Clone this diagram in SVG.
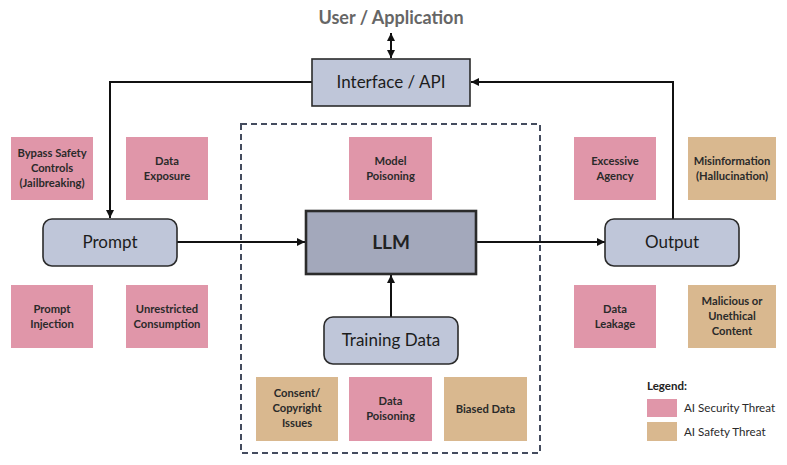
<svg xmlns="http://www.w3.org/2000/svg" width="787" height="465" viewBox="0 0 787 465">
<defs>
<marker id="ah" viewBox="0 0 10 10" refX="10" refY="5" markerWidth="4" markerHeight="4" orient="auto-start-reverse" markerUnits="strokeWidth">
<path d="M0,0 L10,5 L0,10 z" fill="#111"/>
</marker>
<style>
.node{fill:#bfc6d9;stroke:#2b2b2b;stroke-width:1.6}
.llm{fill:#a3a8bb;stroke:#2b2b2b;stroke-width:2.6}
.lbl{font-family:Lato,"Noto Sans",sans-serif;font-size:17px;fill:#1c1c1c;text-anchor:middle}
.sec{fill:#e096a9}
.saf{fill:#d9b88f}
.t{font-family:Lato,"Noto Sans",sans-serif;font-size:11.2px;font-weight:bold;fill:#2a2a2a;text-anchor:middle}
.conn{fill:none;stroke:#111;stroke-width:2}
.lg{font-family:Lato,"Noto Sans",sans-serif;font-size:11.6px;fill:#2a2a2a}
</style>
</defs>
<rect width="787" height="465" fill="#fff"/>
<text x="391" y="24" font-family="Lato,'Noto Sans',sans-serif" font-size="18" font-weight="bold" fill="#666" text-anchor="middle">User / Application</text>

<rect x="241" y="124" width="299" height="329" fill="none" stroke="#444c5e" stroke-width="2" stroke-dasharray="6,4"/>

<g id="connectors">
<line class="conn" x1="391" y1="33" x2="391" y2="58" marker-start="url(#ah)" marker-end="url(#ah)"/>
<polyline class="conn" points="312,82 110,82 110,218" marker-end="url(#ah)"/>
<line class="conn" x1="177" y1="242" x2="305" y2="242" marker-end="url(#ah)"/>
<line class="conn" x1="476" y1="242" x2="605" y2="242" marker-end="url(#ah)"/>
<polyline class="conn" points="673,219 673,82 471,82" marker-end="url(#ah)"/>
<line class="conn" x1="391" y1="317" x2="391" y2="275" marker-end="url(#ah)"/>
</g>

<g id="interface"><rect class="node" x="312" y="59" width="158" height="47"/><text class="lbl" x="391" y="88">Interface / API</text></g>
<g id="prompt"><rect class="node" x="43" y="219" width="134" height="47" rx="9"/><text class="lbl" x="110" y="248">Prompt</text></g>
<g id="llm"><rect class="llm" x="306" y="211" width="170" height="63"/><text x="391" y="249" font-family="Lato,'Noto Sans',sans-serif" font-size="19" font-weight="bold" fill="#222" text-anchor="middle">LLM</text></g>
<g id="output"><rect class="node" x="605" y="219" width="134" height="47" rx="9"/><text class="lbl" x="672" y="248">Output</text></g>
<g id="training"><rect class="node" x="324" y="317" width="134" height="47" rx="9"/><text class="lbl" x="391" y="346">Training Data</text></g>

<g id="bypass"><rect class="sec" x="11" y="137" width="82" height="63"/><text class="t" x="52" y="157">Bypass Safety<tspan x="52" dy="15">Controls</tspan><tspan x="52" dy="15">(Jailbreaking)</tspan></text></g>
<g id="exposure"><rect class="sec" x="126" y="137" width="82" height="63"/><text class="t" x="167" y="165">Data<tspan x="167" dy="15">Exposure</tspan></text></g>
<g id="modelpois"><rect class="sec" x="349" y="137" width="83" height="63"/><text class="t" x="390.5" y="165">Model<tspan x="390.5" dy="15">Poisoning</tspan></text></g>
<g id="agency"><rect class="sec" x="574" y="137" width="82" height="63"/><text class="t" x="615" y="165">Excessive<tspan x="615" dy="15">Agency</tspan></text></g>
<g id="misinfo"><rect class="saf" x="688" y="137" width="88" height="63"/><text class="t" x="732" y="165">Misinformation<tspan x="732" dy="15">(Hallucination)</tspan></text></g>

<g id="injection"><rect class="sec" x="11" y="285" width="82" height="63"/><text class="t" x="52" y="313">Prompt<tspan x="52" dy="15">Injection</tspan></text></g>
<g id="consumption"><rect class="sec" x="126" y="285" width="82" height="63"/><text class="t" x="167" y="313">Unrestricted<tspan x="167" dy="15">Consumption</tspan></text></g>
<g id="leakage"><rect class="sec" x="574" y="285" width="82" height="63"/><text class="t" x="615" y="313">Data<tspan x="615" dy="15">Leakage</tspan></text></g>
<g id="malicious"><rect class="saf" x="688" y="285" width="88" height="63"/><text class="t" x="732" y="305">Malicious or<tspan x="732" dy="15">Unethical</tspan><tspan x="732" dy="15">Content</tspan></text></g>

<g id="consent"><rect class="saf" x="256" y="377" width="82" height="64"/><text class="t" x="297" y="397">Consent/<tspan x="297" dy="15">Copyright</tspan><tspan x="297" dy="15">Issues</tspan></text></g>
<g id="datapois"><rect class="sec" x="349" y="377" width="83" height="64"/><text class="t" x="390.5" y="405">Data<tspan x="390.5" dy="15">Poisoning</tspan></text></g>
<g id="biased"><rect class="saf" x="444" y="377" width="83" height="64"/><text class="t" x="485.5" y="413">Biased Data</text></g>

<g id="legend">
<text x="647" y="390" font-family="Lato,'Noto Sans',sans-serif" font-size="11.5" font-weight="bold" fill="#222">Legend:</text>
<rect class="sec" x="647" y="399" width="30" height="18"/>
<text class="lg" x="684" y="412">AI Security Threat</text>
<rect class="saf" x="647" y="422" width="30" height="19"/>
<text class="lg" x="684" y="436">AI Safety Threat</text>
</g>
</svg>
